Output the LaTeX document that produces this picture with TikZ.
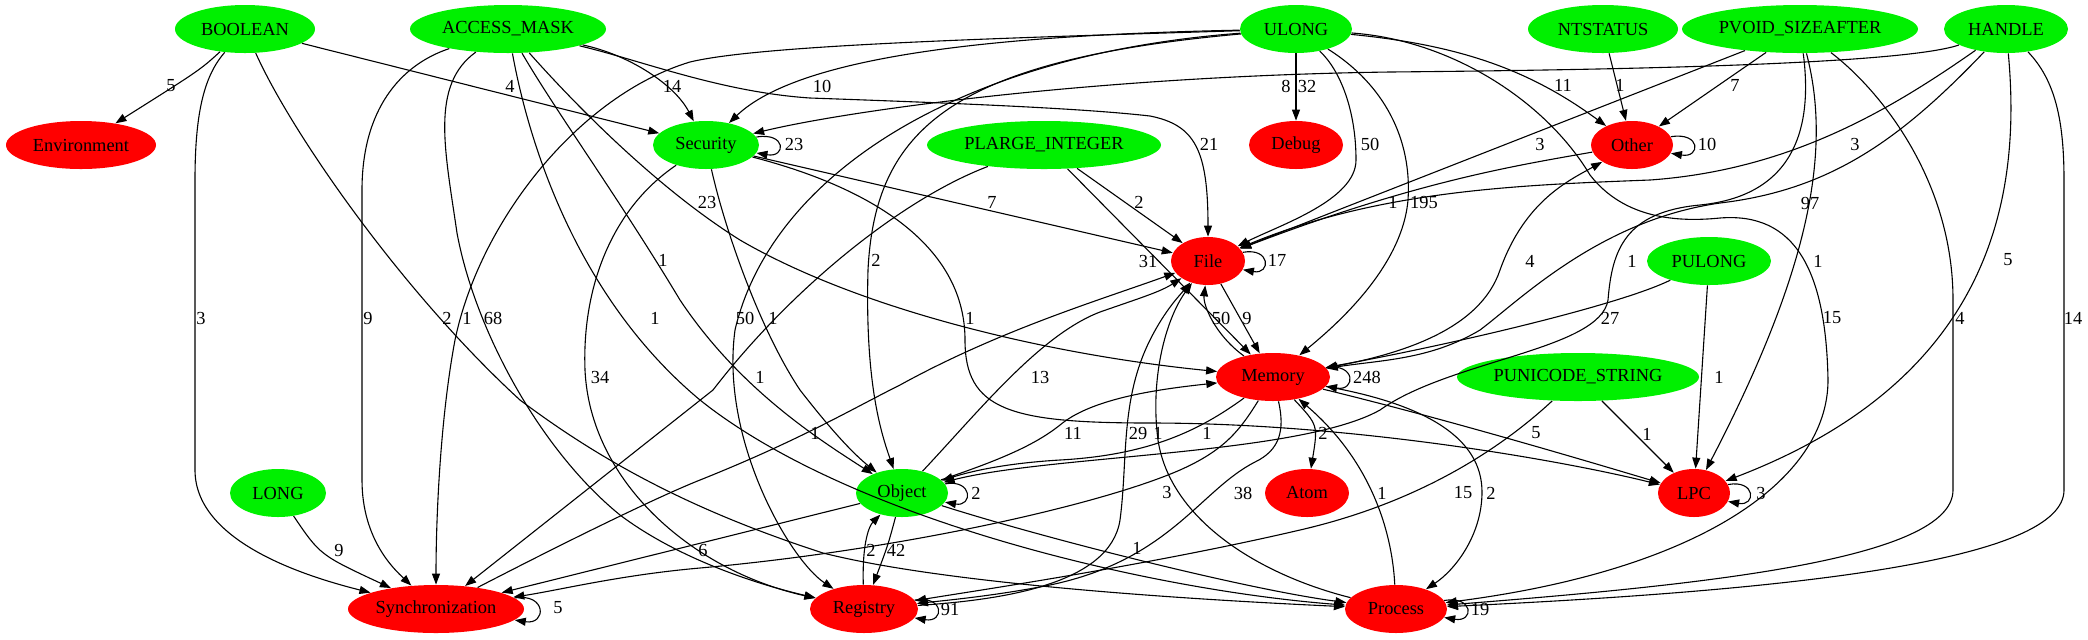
\documentclass[tikz,border=0pt]{standalone}
\usepackage{fontspec}
\setmainfont{Liberation Serif}
\usetikzlibrary{shapes.geometric}
\usetikzlibrary{arrows.meta}
\definecolor{typgreen}{RGB}{0,240,0}
\definecolor{catred}{RGB}{255,0,0}
\tikzset{
    every node/.style={font=\fontsize{9.2}{11}\selectfont},
    typ/.style={ellipse, fill=typgreen, minimum height=24pt, inner sep=0pt},
    cat/.style={typ, fill=catred},
    lbl/.style={inner sep=0.5pt},
    dep/.style={draw, line width=0.55pt, -{Triangle[length=5.5pt,width=4pt]}}}

\begin{document}
\begin{tikzpicture}[x=0.5pt, y=-0.5pt]
    \useasboundingbox (0,0) rectangle (2088,639);

    % argument types and categories
    \node[typ, minimum width=70pt] (BOOL) at (245,29) {BOOLEAN};
    \node[typ, minimum width=98pt] (AMASK) at (508,29) {ACCESS\_MASK};
    \node[typ, minimum width=56pt] (ULONG) at (1296,29) {ULONG};
    \node[typ, minimum width=75pt] (NTST) at (1603,29) {NTSTATUS};
    \node[typ, minimum width=118pt] (PVOID) at (1800,29) {PVOID\_SIZEAFTER};
    \node[typ, minimum width=62pt] (HNDL) at (2006,29) {HANDLE};
    \node[cat, minimum width=75pt] (Env) at (81,145) {Environment};
    \node[typ, minimum width=53pt] (Sec) at (706,145) {Security};
    \node[typ, minimum width=117pt] (PLI) at (1044,145) {PLARGE\_INTEGER};
    \node[cat, minimum width=47pt] (Dbg) at (1296,145) {Debug};
    \node[cat, minimum width=41pt] (Oth) at (1632,145) {Other};
    \node[cat, minimum width=37pt] (File) at (1208,261) {File};
    \node[typ, minimum width=62pt] (PUL) at (1709,261) {PULONG};
    \node[cat, minimum width=57pt] (Mem) at (1273,377) {Memory};
    \node[typ, minimum width=121pt] (PUS) at (1578,377) {PUNICODE\_STRING};
    \node[typ, minimum width=48pt] (LONG) at (278,493) {LONG};
    \node[typ, minimum width=46pt] (Obj) at (902,493) {Object};
    \node[cat, minimum width=42pt] (Atom) at (1307,493) {Atom};
    \node[cat, minimum width=36pt] (LPC) at (1694,493) {LPC};
    \node[cat, minimum width=88pt] (Sync) at (436,609) {Synchronization};
    \node[cat, minimum width=54pt] (Reg) at (864,609) {Registry};
    \node[cat, minimum width=51pt] (Proc) at (1396,609) {Process};

    % BOOLEAN
    \draw[dep] (BOOL) .. controls (200,70) .. (Env);
    \draw[dep] (BOOL) -- (Sec);
    \draw[dep] (BOOL) .. controls (205,75) and (195,110) .. (195,180) -- (195,470) .. controls (195,540) and (300,575) .. (Sync);
    \draw[dep] (BOOL) .. controls (290,130) and (400,290) .. (520,400) .. controls (600,460) and (690,510) .. (823,553) .. controls (950,585) and (1200,600) .. (Proc);
    % ACCESS_MASK
    \draw[dep] (AMASK) .. controls (630,55) and (675,85) .. (Sec);
    \draw[dep] (AMASK) .. controls (640,60) and (720,92) .. (810,98) .. controls (950,103) and (1080,108) .. (1150,116) .. controls (1195,125) and (1208,150) .. (File);
    \draw[dep] (AMASK) .. controls (400,65) and (362,110) .. (362,190) -- (362,480) .. controls (362,540) and (395,570) .. (Sync);
    \draw[dep] (AMASK) .. controls (430,85) and (445,150) .. (457,233) .. controls (475,330) and (540,450) .. (620,515) .. controls (680,560) and (760,585) .. (Reg);
    \draw[dep] (AMASK) .. controls (555,110) and (620,200) .. (680,300) .. controls (740,390) and (820,440) .. (Obj);
    \draw[dep] (AMASK) .. controls (530,150) and (580,300) .. (700,400) .. controls (850,520) and (1150,590) .. (Proc);
    \draw[dep] (AMASK) .. controls (580,110) and (660,190) .. (740,240) .. controls (860,310) and (1050,355) .. (Mem);
    % ULONG
    \draw[dep] (ULONG) .. controls (1000,35) and (800,55) .. (Sec);
    \draw[dep] (ULONG) .. controls (1000,38) and (760,45) .. (690,62) .. controls (580,95) and (480,220) .. (455,340) .. controls (440,420) and (436,520) .. (Sync);
    \draw[dep] (ULONG) .. controls (950,55) and (770,180) .. (735,330) .. controls (720,440) and (790,560) .. (Reg);
    \draw[dep] (ULONG) .. controls (950,60) and (875,130) .. (868,270) .. controls (865,380) and (880,430) .. (Obj);
    \draw[dep] (ULONG) -- (Dbg);
    \draw[dep] (ULONG) .. controls (1340,70) and (1356,110) .. (1356,160) .. controls (1356,200) and (1280,225) .. (File);
    \draw[dep] (ULONG) .. controls (1385,85) and (1412,140) .. (1408,200) .. controls (1402,270) and (1330,330) .. (Mem);
    \draw[dep] (ULONG) .. controls (1460,45) and (1530,70) .. (Oth);
    \draw[dep] (ULONG) .. controls (1450,40) and (1545,100) .. (1590,175) .. controls (1625,220) and (1680,222) .. (1720,218) .. controls (1795,212) and (1826,270) .. (1828,380) .. controls (1828,480) and (1700,570) .. (Proc);
    % NTSTATUS, PVOID_SIZEAFTER
    \draw[dep] (NTST) -- (Oth);
    \draw[dep] (PVOID) -- (Oth);
    \draw[dep] (PVOID) -- (File);
    \draw[dep] (PVOID) .. controls (1812,120) and (1800,195) .. (1700,205) .. controls (1625,212) and (1612,250) .. (1608,300) .. controls (1600,350) and (1450,360) .. (1380,410) .. controls (1300,455) and (1050,455) .. (Obj);
    \draw[dep] (PVOID) .. controls (1832,150) and (1810,270) .. (LPC);
    \draw[dep] (PVOID) .. controls (1880,90) and (1953,180) .. (1953,300) -- (1953,490) .. controls (1953,560) and (1700,585) .. (Proc);
    % HANDLE
    \draw[dep] (HNDL) .. controls (1900,65) and (1600,70) .. (1390,72) .. controls (1100,76) and (850,110) .. (Sec);
    \draw[dep] (HNDL) .. controls (1890,110) and (1790,170) .. (1650,180) .. controls (1520,185) and (1380,190) .. (File);
    \draw[dep] (HNDL) .. controls (1900,140) and (1830,190) .. (1720,203) .. controls (1600,220) and (1520,300) .. (1480,330) .. controls (1430,360) and (1380,360) .. (Mem);
    \draw[dep] (HNDL) .. controls (2022,200) and (1990,380) .. (LPC);
    \draw[dep] (HNDL) .. controls (2055,80) and (2064,120) .. (2064,180) -- (2064,490) .. controls (2064,560) and (1800,590) .. (Proc);
    % Security
    \draw[dep] (Sec.9) .. controls +(30,-5) and +(30,5) .. (Sec.-9);
    \draw[dep] (Sec) -- (File);
    \draw[dep] (Sec) .. controls (725,230) and (760,330) .. (800,390) .. controls (835,435) and (855,455) .. (Obj);
    \draw[dep] (Sec) .. controls (610,210) and (582,290) .. (585,370) .. controls (590,480) and (690,570) .. (Reg);
    \draw[dep] (Sec) .. controls (880,190) and (965,250) .. (965,340) .. controls (965,410) and (1010,423) .. (1150,423) .. controls (1350,423) and (1560,460) .. (LPC);
    % PLARGE_INTEGER
    \draw[dep] (PLI) -- (File);
    \draw[dep] (PLI) -- (Mem);
    \draw[dep] (PLI) .. controls (900,200) and (790,290) .. (713,390) -- (Sync);
    % Other, File
    \draw[dep] (Oth.12) .. controls +(30,-5) and +(30,5) .. (Oth.-12);
    \draw[dep] (Oth) .. controls (1520,165) and (1420,180) .. (File);
    \draw[dep] (File.14) .. controls +(28,-5) and +(28,5) .. (File.-14);
    \draw[dep] (File) -- (Mem);
    % Memory
    \draw[dep] (Mem) .. controls (1215,335) and (1203,305) .. (File);
    \draw[dep] (Mem.10) .. controls +(30,-5) and +(30,5) .. (Mem.-10);
    \draw[dep] (Mem) .. controls (1400,355) and (1480,330) .. (1500,270) .. controls (1525,200) and (1570,180) .. (Oth);
    \draw[dep] (Mem) .. controls (1318,425) .. (Atom);
    \draw[dep] (Mem) .. controls (1200,430) and (1150,455) .. (1060,460) .. controls (1010,463) and (975,470) .. (Obj);
    \draw[dep] (Mem) .. controls (1240,430) and (1225,450) .. (1180,470) .. controls (1100,505) and (900,550) .. (700,568) .. controls (620,575) and (560,590) .. (Sync);
    \draw[dep] (Mem) .. controls (1285,430) and (1280,450) .. (1255,462) .. controls (1200,490) and (1170,560) .. (1050,585) .. controls (1000,595) and (950,600) .. (Reg);
    \draw[dep] (Mem) .. controls (1450,420) and (1600,465) .. (LPC);
    \draw[dep] (Mem) .. controls (1430,405) and (1482,440) .. (1482,492) .. controls (1482,535) and (1455,570) .. (Proc);
    % PULONG, PUNICODE_STRING, LONG
    \draw[dep] (PUL) .. controls (1620,305) and (1450,345) .. (Mem);
    \draw[dep] (PUL) -- (LPC);
    \draw[dep] (PUS) -- (LPC);
    \draw[dep] (PUS) .. controls (1510,440) and (1430,500) .. (1300,530) .. controls (1150,565) and (980,590) .. (Reg);
    \draw[dep] (LONG) .. controls (320,555) .. (Sync);
    % Object
    \draw[dep] (Obj.12) .. controls +(28,-5) and +(28,5) .. (Obj.-12);
    \draw[dep] (Obj) .. controls (980,410) and (1040,335) .. (1100,312) .. controls (1140,298) and (1160,292) .. (File);
    \draw[dep] (Obj) .. controls (1000,460) and (1035,445) .. (1060,425) .. controls (1090,400) and (1150,390) .. (Mem);
    \draw[dep] (Obj) -- (Sync);
    \draw[dep] (Obj) .. controls (888,545) .. (Reg);
    \draw[dep] (Obj) .. controls (1050,540) and (1250,590) .. (Proc);
    % Registry, Process, LPC, Synchronization
    \draw[dep] (Reg) .. controls (862,540) and (870,525) .. (Obj);
    \draw[dep] (Reg.10) .. controls +(30,-5) and +(30,5) .. (Reg.-10);
    \draw[dep] (Reg) .. controls (1000,600) and (1110,585) .. (1120,520) .. controls (1128,460) and (1120,400) .. (1150,340) .. controls (1165,310) and (1180,295) .. (File);
    \draw[dep] (Proc.10) .. controls +(30,-5) and +(30,5) .. (Proc.-10);
    \draw[dep] (Proc) .. controls (1260,575) and (1170,520) .. (1158,440) .. controls (1150,380) and (1165,320) .. (File);
    \draw[dep] (Proc) .. controls (1392,530) and (1370,460) .. (Mem);
    \draw[dep] (LPC.14) .. controls +(28,-5) and +(28,5) .. (LPC.-14);
    \draw[dep] (Sync.8) .. controls +(32,-5) and +(32,5) .. (Sync.-8);
    \draw[dep] (Sync) .. controls (550,550) and (650,500) .. (700,480) .. controls (800,440) and (850,410) .. (900,385) .. controls (1000,330) and (1100,300) .. (File);

    % counts
    \node[lbl] (cBoolEnv) at (171,86) {5};
    \node[lbl] (cBoolSec) at (510,86) {4};
    \node[lbl] (cMaskSec) at (672,86) {14};
    \node[lbl] (cUlSec) at (822,86) {10};
    \node[lbl] (cHdSec) at (1286,86) {8};
    \node[lbl] (cUlDbg) at (1307,86) {32};
    \node[lbl] (cUlOth) at (1563,85) {11};
    \node[lbl] (cNtOth) at (1620,85) {1};
    \node[lbl] (cPvOth) at (1735,85) {7};
    \node[lbl] (cSecSec) at (794,144) {23};
    \node[lbl] (cMaskFile) at (1209,144) {21};
    \node[lbl] (cUlFile) at (1370,144) {50};
    \node[lbl] (cPvFile) at (1540,144) {3};
    \node[lbl] (cOthOth) at (1707,144) {10};
    \node[lbl] (cHdFile) at (1855,144) {3};
    \node[lbl] (cMaskMem) at (707,202) {23};
    \node[lbl] (cSecFile) at (992,202) {7};
    \node[lbl] (cPliFile) at (1139,202) {2};
    \node[lbl] (cOthFile) at (1393,202) {1};
    \node[lbl] (cUlMem) at (1424,202) {195};
    \node[lbl] (cHdMem) at (1810,203) {97};
    \node[lbl] (cMaskObj) at (663,260) {1};
    \node[lbl] (cUlObj) at (876,260) {2};
    \node[lbl] (cPliMem) at (1148,261) {31};
    \node[lbl] (cFileFile) at (1277,260) {17};
    \node[lbl] (cMemOth) at (1530,261) {4};
    \node[lbl] (cPvObj) at (1632,261) {1};
    \node[lbl] (cPvLpc) at (1818,261) {1};
    \node[lbl] (cHdLpc) at (2008,260) {5};
    \node[lbl] (cBoolSync) at (201,318) {3};
    \node[lbl] (cMaskSync) at (368,318) {9};
    \node[lbl] (cBoolProc) at (447,318) {2};
    \node[lbl] (cUlSync) at (467,318) {1};
    \node[lbl] (cMaskReg) at (493,318) {68};
    \node[lbl] (cMaskProc) at (655,318) {1};
    \node[lbl] (cUlReg) at (745,318) {50};
    \node[lbl] (cSecObj) at (773,318) {1};
    \node[lbl] (cSecLpc) at (970,318) {1};
    \node[lbl] (cMemFile) at (1221,318) {50};
    \node[lbl] (cFileMem) at (1247,318) {9};
    \node[lbl] (cPulMem) at (1610,318) {27};
    \node[lbl] (cUlProc) at (1832,318) {15};
    \node[lbl] (cPvProc) at (1960,318) {4};
    \node[lbl] (cHdProc) at (2073,318) {14};
    \node[lbl] (cSecReg) at (600,377) {34};
    \node[lbl] (cPliSync) at (760,377) {1};
    \node[lbl] (cObjFile) at (1040,377) {13};
    \node[lbl] (cMemMem) at (1367,377) {248};
    \node[lbl] (cPulLpc) at (1719,377) {1};
    \node[lbl] (cSyncFile) at (815,433) {1};
    \node[lbl] (cObjMem) at (1073,433) {11};
    \node[lbl] (cRegFile) at (1138,433) {29};
    \node[lbl] (cMemSync) at (1158,433) {1};
    \node[lbl] (cMemObj) at (1207,433) {1};
    \node[lbl] (cMemAtom) at (1323,433) {2};
    \node[lbl] (cMemLpc) at (1536,433) {5};
    \node[lbl] (cPusLpc) at (1647,434) {1};
    \node[lbl] (cObjObj) at (976,493) {2};
    \node[lbl] (cProcFile) at (1167,492) {3};
    \node[lbl] (cMemReg) at (1243,493) {38};
    \node[lbl] (cProcMem) at (1382,493) {1};
    \node[lbl] (cPusReg) at (1463,493) {15};
    \node[lbl] (cMemProc) at (1491,493) {2};
    \node[lbl] (cLpcLpc) at (1761,493) {3};
    \node[lbl] (cLongSync) at (339,550) {9};
    \node[lbl] (cObjSync) at (703,550) {6};
    \node[lbl] (cRegObj) at (871,550) {2};
    \node[lbl] (cObjReg) at (896,550) {42};
    \node[lbl] (cObjProc) at (1137,548) {1};
    \node[lbl] (cSyncSync) at (558,608) {5};
    \node[lbl] (cRegReg) at (950,609) {91};
    \node[lbl] (cProcProc) at (1480,609) {19};
\end{tikzpicture}
\end{document}
